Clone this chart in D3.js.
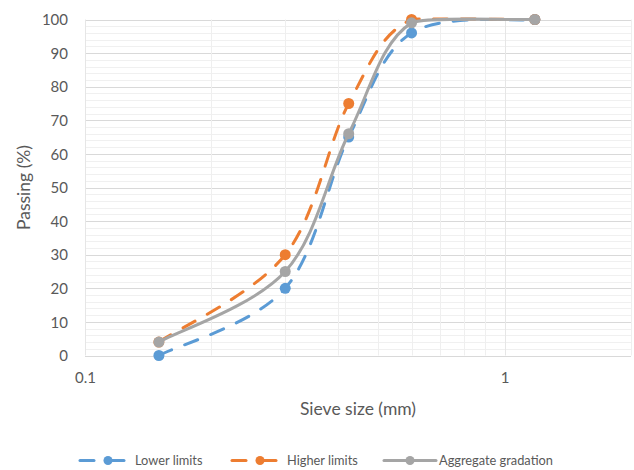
<!DOCTYPE html>
<html>
<head>
<meta charset="utf-8">
<script src="https://cdn.jsdelivr.net/npm/d3@7"></script>
<style>
  html, body { margin: 0; padding: 0; background: #fff; }
  svg text { font-family: Lato, "Open Sans", sans-serif; fill: #595959; }
</style>
</head>
<body>
<svg id="chart" width="634" height="470"></svg>
<script>
// Sieve sizes (mm) and percentage passing for each curve
const sieveSizes = [0.15, 0.3, 0.425, 0.6, 1.18];
const lowerLimits = [0, 20, 65, 96, 100];
const higherLimits = [4, 30, 75, 100, 100];
const aggregateGradation = [4, 25, 66, 99, 100];

const yTicks = [0, 10, 20, 30, 40, 50, 60, 70, 80, 90, 100];
const xTickLabels = [0.1, 1];

const series = [
  { name: "Lower limits", values: lowerLimits, color: "#5B9BD5", dash: "14,14" },
  { name: "Higher limits", values: higherLimits, color: "#ED7D31", dash: "14,14" },
  { name: "Aggregate gradation", values: aggregateGradation, color: "#A5A5A5", dash: null }
];

const svg = d3.select("#chart");
const plot = { left: 85, right: 631, top: 19.5, bottom: 355.5 };

const x = d3.scaleLog().domain([0.1, 2]).range([plot.left, plot.right]);
const y = d3.scaleLinear().domain([0, 100]).range([plot.bottom, plot.top]);

const grid = svg.append("g");

// Horizontal gridlines: minor every 2, major every 10
d3.range(0, 101, 2).forEach(v => {
  const major = v % 10 === 0;
  grid.append("line")
    .attr("x1", plot.left).attr("x2", plot.right)
    .attr("y1", Math.round(y(v)) + 0.5).attr("y2", Math.round(y(v)) + 0.5)
    .attr("stroke", major ? "#d9d9d9" : "#f0f0f0")
    .attr("stroke-width", 1);
});

// Vertical gridlines on the log axis
const vLines = d3.range(1, 11).map(k => k / 10).concat([2]);
vLines.forEach(v => {
  const major = Math.abs(v - 0.1) < 1e-9 || Math.abs(v - 1) < 1e-9;
  grid.append("line")
    .attr("x1", Math.round(x(v)) + 0.5).attr("x2", Math.round(x(v)) + 0.5)
    .attr("y1", plot.top).attr("y2", plot.bottom)
    .attr("stroke", major ? "#e6e6e6" : "#efefef")
    .attr("stroke-width", 1);
});

// Bottom axis line
svg.append("line")
  .attr("x1", plot.left).attr("x2", plot.right)
  .attr("y1", Math.round(y(0)) + 0.5).attr("y2", Math.round(y(0)) + 0.5)
  .attr("stroke", "#d9d9d9").attr("stroke-width", 1);

// Y axis tick labels
const yAxis = d3.axisLeft(y).tickValues(yTicks).tickSize(0).tickPadding(17);
const gy = svg.append("g").attr("transform", `translate(${plot.left},0)`).call(yAxis);
gy.select(".domain").remove();
gy.selectAll("text").style("font-size", "15px").attr("fill", "#595959").attr("dy", "0.35em");

// X axis tick labels
const xAxis = d3.axisBottom(x).tickValues(xTickLabels).tickFormat(d3.format("")).tickSize(0).tickPadding(17);
const gx = svg.append("g").attr("transform", `translate(0,${plot.bottom})`).call(xAxis);
gx.select(".domain").remove();
gx.selectAll("text").style("font-size", "15px").attr("fill", "#595959");

// Axis titles
svg.append("text")
  .attr("transform", `translate(30,${(plot.top + plot.bottom) / 2}) rotate(-90)`)
  .attr("text-anchor", "middle")
  .style("font-size", "17.5px")
  .text("Passing (%)");

svg.append("text")
  .attr("x", (plot.left + plot.right) / 2)
  .attr("y", 415)
  .attr("text-anchor", "middle")
  .style("font-size", "17.5px")
  .text("Sieve size (mm)");

// Smoothed path: cubic Bezier segments with Catmull-Rom style tangents
// (1/6 of the neighbour chord); a tangent is shortened whenever the
// segment would otherwise bulge past the y-range of its two end points.
function bezierY(p0, c1, c2, p1, t) {
  const u = 1 - t;
  return u * u * u * p0 + 3 * u * u * t * c1 + 3 * u * t * t * c2 + t * t * t * p1;
}

function smoothPath(pts) {
  const px = pts.map(p => [x(p[0]), y(p[1])]);
  const n = pts.length;
  let d = `M${px[0][0]},${px[0][1]}`;
  for (let i = 0; i < n - 1; i++) {
    const P0 = px[Math.max(i - 1, 0)], P1 = px[i], P2 = px[i + 1], P3 = px[Math.min(i + 2, n - 1)];
    let f0 = 1 / 6, f1 = 1 / 6;
    const lo = Math.min(P1[1], P2[1]), hi = Math.max(P1[1], P2[1]);
    let c1, c2;
    for (let iter = 0; iter < 80; iter++) {
      c1 = [P1[0] + f0 * (P2[0] - P0[0]), P1[1] + f0 * (P2[1] - P0[1])];
      c2 = [P2[0] - f1 * (P3[0] - P1[0]), P2[1] - f1 * (P3[1] - P1[1])];
      let over = 0;
      for (let k = 1; k < 40; k++) {
        const yy = bezierY(P1[1], c1[1], c2[1], P2[1], k / 40);
        over = Math.max(over, lo - yy, yy - hi);
      }
      if (over <= 0.6) break;
      if (c1[1] < lo || c1[1] > hi) f0 *= 0.85;
      if (c2[1] < lo || c2[1] > hi) f1 *= 0.85;
    }
    d += `C${c1[0]},${c1[1]} ${c2[0]},${c2[1]} ${P2[0]},${P2[1]}`;
  }
  return d;
}

series.forEach(s => {
  const pts = sieveSizes.map((v, i) => [v, s.values[i]]);
  const g = svg.append("g");
  g.append("path")
    .attr("d", smoothPath(pts))
    .attr("fill", "none")
    .attr("stroke", s.color)
    .attr("stroke-width", 3)
    .attr("stroke-linecap", "round")
    .attr("stroke-dasharray", s.dash);
  g.selectAll("circle")
    .data(pts)
    .join("circle")
    .attr("cx", d => x(d[0]))
    .attr("cy", d => y(d[1]))
    .attr("r", 5.5)
    .attr("fill", s.color);
});

// Legend
const legendItems = [
  { s: series[0], x0: 80, textX: 135 },
  { s: series[1], x0: 232, textX: 287 },
  { s: series[2], x0: 384, textX: 439 }
];
const ly = 460.5;
legendItems.forEach(it => {
  const g = svg.append("g");
  if (it.s.dash) {
    g.append("line").attr("x1", it.x0).attr("x2", it.x0 + 14).attr("y1", ly).attr("y2", ly)
      .attr("stroke", it.s.color).attr("stroke-width", 3).attr("stroke-linecap", "round");
    g.append("line").attr("x1", it.x0 + 26).attr("x2", it.x0 + 44).attr("y1", ly).attr("y2", ly)
      .attr("stroke", it.s.color).attr("stroke-width", 3).attr("stroke-linecap", "round");
  } else {
    g.append("line").attr("x1", it.x0).attr("x2", it.x0 + 52).attr("y1", ly).attr("y2", ly)
      .attr("stroke", it.s.color).attr("stroke-width", 3).attr("stroke-linecap", "round");
  }
  g.append("circle").attr("cx", it.x0 + (it.s.dash ? 28 : 26)).attr("cy", ly).attr("r", 4.5).attr("fill", it.s.color);
  g.append("text").attr("x", it.textX).attr("y", ly).attr("dy", "0.35em")
    .style("font-size", "12.8px").text(it.s.name);
});
</script>
</body>
</html>
